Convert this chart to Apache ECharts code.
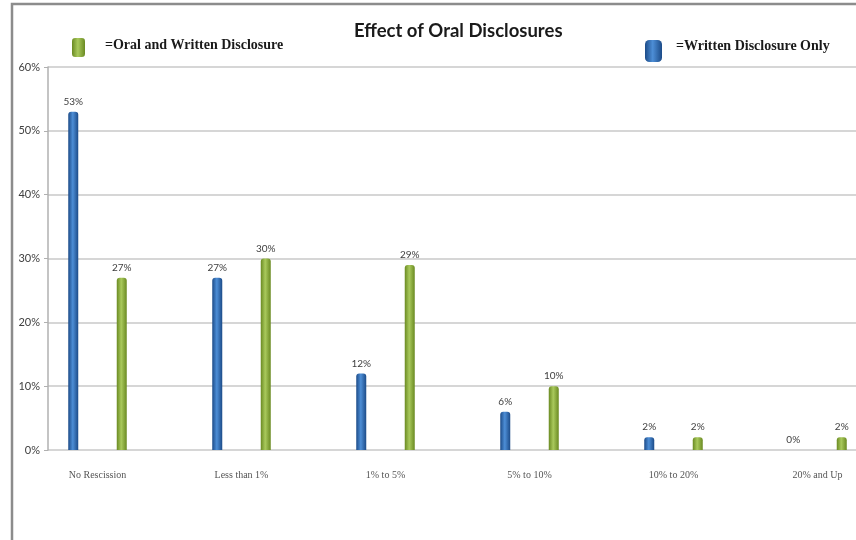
<!DOCTYPE html>
<html>
<head>
<meta charset="utf-8">
<script src="https://cdn.jsdelivr.net/npm/echarts@6/dist/echarts.min.js"></script>
<style>
html,body{margin:0;padding:0;background:#fff;}
#chart{width:856px;height:540px;}
</style>
</head>
<body>
<div id="chart"></div>
<script>
const categories = ['No Rescission', 'Less than 1%', '1% to 5%', '5% to 10%', '10% to 20%', '20% and Up'];
const writtenOnly = [53, 27, 12, 6, 2, 0];
const oralAndWritten = [27, 30, 29, 10, 2, 2];
const yTicks = { min: 0, max: 60, interval: 10 };
const titleText = 'Effect of Oral Disclosures';
const seriesNames = ['Written Disclosure Only', 'Oral and Written Disclosure'];

const chart = echarts.init(document.getElementById('chart'));

function grad(edge, mid) {
  return new echarts.graphic.LinearGradient(0, 0, 1, 0, [
    { offset: 0, color: edge },
    { offset: 0.45, color: mid },
    { offset: 1, color: edge }
  ]);
}

const labelStyle = {
  show: true,
  position: 'top',
  distance: 5,
  formatter: '{c}%',
  fontFamily: 'Lato',
  fontSize: 10,
  color: '#404040'
};

const legendText = (padBottom, padLeft) => ({
  fontFamily: 'Liberation Serif', fontWeight: 'bold', fontSize: 14, color: '#1a1a1a',
  rich: {
    t: { fontFamily: 'Liberation Serif', fontWeight: 'bold', fontSize: 14, color: '#1a1a1a', padding: [0, 0, padBottom, padLeft] }
  }
});

chart.setOption({
  animation: false,
  backgroundColor: '#ffffff',
  title: {
    text: titleText,
    left: 349,
    top: 17,
    textStyle: { fontFamily: 'Lato', fontWeight: 'bold', fontSize: 18.5, color: '#1a1a1a' }
  },
  legend: [
    {
      data: [seriesNames[1]],
      left: 67, top: 33,
      itemWidth: 13, itemHeight: 19,
      icon: 'roundRect',
      formatter: '{t|={name}}',
      textStyle: legendText(5, 15)
    },
    {
      data: [seriesNames[0]],
      left: 640, top: 34,
      itemWidth: 17, itemHeight: 22,
      icon: 'roundRect',
      formatter: '{t|={name}}',
      textStyle: legendText(10, 9)
    }
  ],
  graphic: [
    {
      type: 'rect',
      shape: { x: 12, y: 4, width: 900, height: 560 },
      style: { fill: 'none', stroke: '#8c8c8c', lineWidth: 2.5 },
      z: 0
    }
  ],
  grid: [
    { left: 25.5, right: -33.5, top: 67, bottom: 90, outerBoundsMode: 'none', containLabel: false },
    { left: 48, right: -20, top: 67, bottom: 90, outerBoundsMode: 'none', containLabel: false }
  ],
  xAxis: [
    {
      type: 'category',
      gridIndex: 0,
      data: categories,
      axisLine: { show: false },
      axisTick: { show: false },
      axisLabel: { margin: 20, fontFamily: 'Liberation Serif', fontSize: 10, color: '#555' }
    },
    { type: 'value', gridIndex: 1, show: false, min: 0, max: 1 }
  ],
  yAxis: [
    { type: 'value', gridIndex: 0, min: yTicks.min, max: yTicks.max, interval: yTicks.interval, show: false },
    {
      type: 'value', gridIndex: 1,
      min: yTicks.min, max: yTicks.max, interval: yTicks.interval,
      axisLine: { show: true, lineStyle: { color: '#b0b0b0', width: 1.5 } },
      axisTick: { show: true, length: 4, lineStyle: { color: '#b0b0b0' } },
      axisLabel: { formatter: '{value}%', margin: 8, fontFamily: 'Lato', fontSize: 11, color: '#404040' },
      splitLine: { show: true, lineStyle: { color: '#c8c8c8', width: 1.5 } }
    }
  ],
  series: [
    {
      name: seriesNames[0],
      type: 'bar',
      xAxisIndex: 0, yAxisIndex: 0,
      data: writtenOnly,
      barWidth: 10,
      barGap: '385%',
      itemStyle: { color: grad('#1c4b88', '#4d8ed6'), borderRadius: [3, 3, 0, 0] },
      label: labelStyle,
      z: 3
    },
    {
      name: seriesNames[1],
      type: 'bar',
      xAxisIndex: 0, yAxisIndex: 0,
      data: oralAndWritten,
      barWidth: 10,
      barGap: '385%',
      itemStyle: { color: grad('#6a8a22', '#a9c95c'), borderRadius: [3, 3, 0, 0] },
      label: labelStyle,
      z: 3
    }
  ]
});
</script>
</body>
</html>
